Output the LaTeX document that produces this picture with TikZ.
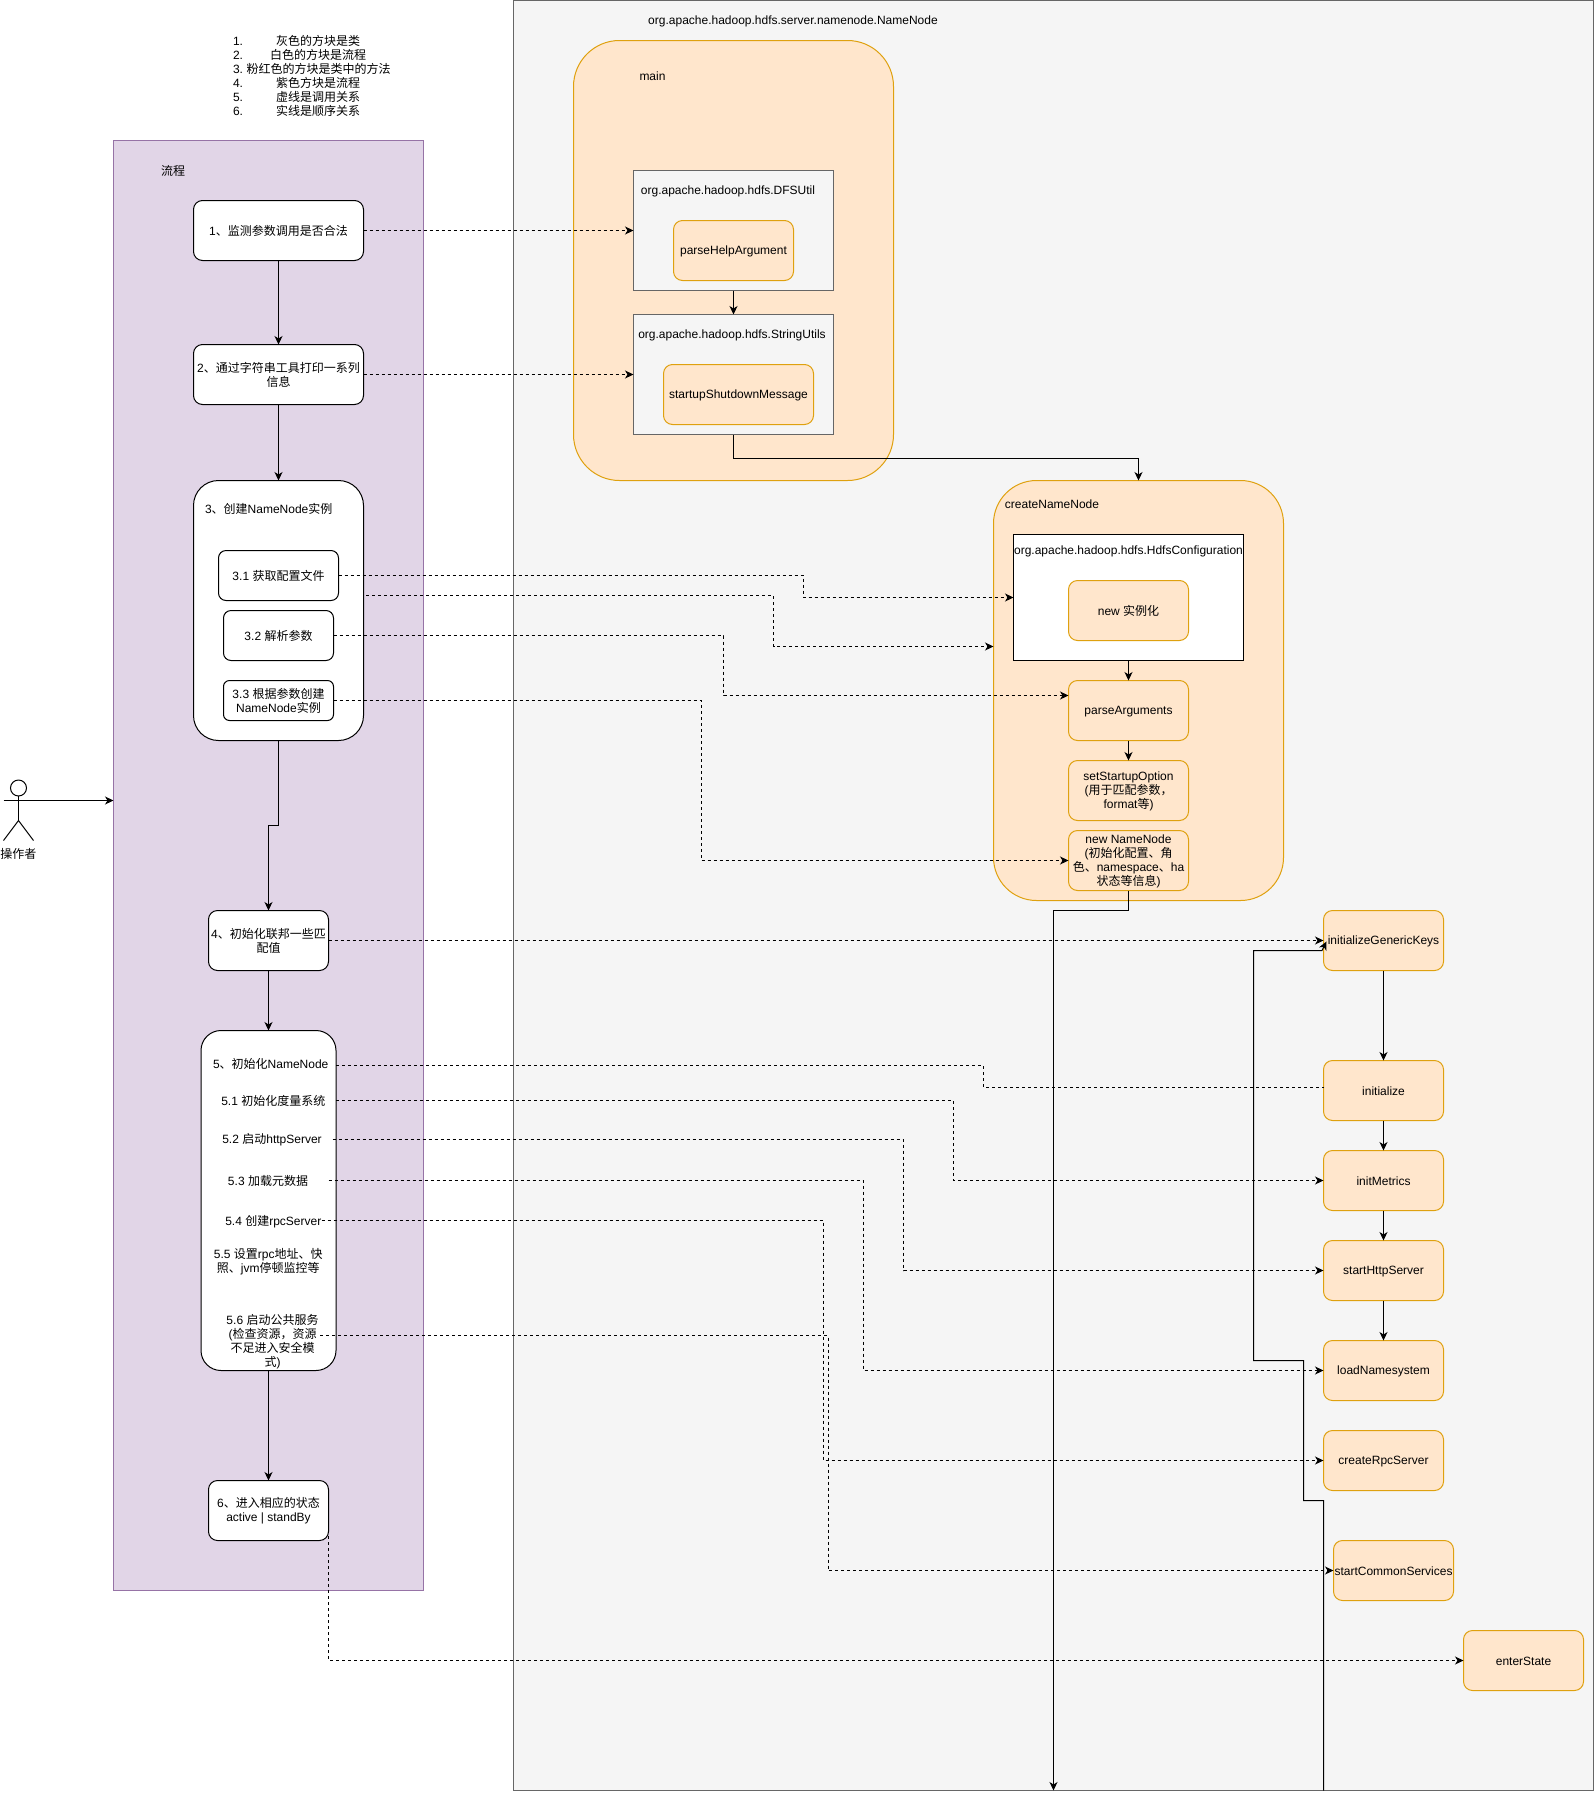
\documentclass[tikz,border=0pt]{standalone}
\usepackage{fontspec}
\setmainfont{Liberation Sans}
\newfontfamily\cjk{Noto Sans CJK SC}
\newcommand{\zh}[1]{{\cjk #1}}
\newcommand{\lat}{\vphantom{\zh{字}}}
\usetikzlibrary{
    arrows.meta
}
\definecolor{panelgray}{HTML}{F5F5F5}
\definecolor{linegray}{HTML}{666666}
\definecolor{flowfill}{HTML}{E1D5E7}
\definecolor{flowline}{HTML}{9673A6}
\definecolor{methodfill}{HTML}{FFE6CC}
\definecolor{methodline}{HTML}{DFA10F}

\begin{document}
\begin{tikzpicture}[x=1pt,y=-1pt,line width=1pt,>={Stealth[length=8.5pt,width=8pt,inset=2.5pt]},
	font=\fontsize{12}{14}\selectfont]
	\tikzstyle{every node}=[inner sep=0pt, outer sep=0pt, align=center]
	\tikzstyle{flowbox}=[draw=black, fill=white, rounded corners=9pt, minimum width=120pt, minimum height=60pt]
	\tikzstyle{method}=[draw=methodline, fill=methodfill, rounded corners=9pt, minimum width=120pt, minimum height=60pt]
	\tikzstyle{klass}=[draw=linegray, fill=panelgray, minimum width=200pt, minimum height=120pt]
	\tikzstyle{call}=[->, dash pattern=on 3pt off 3pt]
	\useasboundingbox (0, 0) rectangle (1594, 1799);

	% panels
	\node [draw=linegray, fill=panelgray, minimum width=1080pt, minimum height=1790pt] (nnclass) at (1053.5, 895.5) {};
	\node [draw=flowline, fill=flowfill, minimum width=310pt, minimum height=1450pt] (flowbg) at (268.5, 865.5) {};
	\node [draw=methodline, fill=methodfill, rounded corners=46pt, minimum width=320pt, minimum height=440pt] (mainm) at (733.5, 260.5) {};
	\node [draw=methodline, fill=methodfill, rounded corners=43pt, minimum width=290pt, minimum height=420pt] (createm) at (1138.5, 690.5) {};

	% legend and titles
	\node [anchor=north west, align=left] (legend) at (233, 35.5) {1.\hspace{33pt}\zh{灰色的方块是类}\\ 2.\hspace{27pt}\zh{白色的方块是流程}\\ 3.\hspace{3.5pt}\zh{粉红色的方块是类中的方法}\\ 4.\hspace{33pt}\zh{紫色方块是流程}\\ 5.\hspace{33pt}\zh{虚线是调用关系}\\ 6.\hspace{33pt}\zh{实线是顺序关系}};
	\node (flowtitle) at (173, 171) {\zh{流程}};
	\node (nntitle) at (793, 20.5) {\lat org.apache.hadoop.hdfs.server.namenode.NameNode};
	\node (maintitle) at (652.5, 76) {\lat main};
	\node (createtitle) at (1052, 504) {\lat createNameNode};

	% actor
	\node [draw, circle, minimum size=16pt] (actor) at (18.5, 788) {};
	\coordinate (arml) at (3.5, 800.5);
	\coordinate (armr) at (33.5, 800.5);
	\coordinate (hip) at (18.5, 820.5);
	\coordinate (footl) at (3.5, 840.5);
	\coordinate (footr) at (33.5, 840.5);
	\draw (actor.south) -- (hip);
	\draw (arml) -- (armr);
	\draw (footl) -- (hip) -- (footr);
	\node (actorname) at (18.5, 853.5) {\zh{操作者}};

	% flow column
	\node [flowbox, minimum width=170pt] (check) at (278.5, 230.5) {1\zh{、监测参数调用是否合法}};
	\node [flowbox, minimum width=170pt] (printmsg) at (278.5, 374.5) {2\zh{、通过字符串工具打印一系列}\\ \zh{信息}};
	\node [flowbox, rounded corners=25pt, minimum width=170pt, minimum height=260pt] (instance) at (278.5, 610.5) {};
	\node (instancetxt) at (268.7, 509) {3\zh{、创建}NameNode\zh{实例}};
	\node [flowbox, rounded corners=7.5pt, minimum height=50pt] (readconf) at (278.5, 575.5) {3.1 \zh{获取配置文件}};
	\node [flowbox, rounded corners=7.5pt, minimum width=110pt, minimum height=50pt] (parseargs) at (278.5, 635.5) {3.2 \zh{解析参数}};
	\node [flowbox, rounded corners=6pt, minimum width=110pt, minimum height=40pt] (newinst) at (278.5, 700.5) {3.3 \zh{根据参数创建}\\ NameNode\zh{实例}};
	\node [flowbox] (federation) at (268.5, 940.5) {4\zh{、初始化联邦一些匹}\\ \zh{配值}};
	\node [flowbox, rounded corners=20pt, minimum width=135pt, minimum height=340pt] (initnn) at (268.5, 1200.5) {};
	\node (initnntxt) at (270.7, 1063.5) {5\zh{、初始化}NameNode};
	\node (metricstxt) at (273.3, 1100.5) {5.1 \zh{初始化度量系统}};
	\node (httptxt) at (272, 1139.5) {5.2 \zh{启动}httpServer};
	\node (loadtxt) at (268, 1180.5) {5.3 \zh{加载元数据}};
	\node (rpctxt) at (273.3, 1221.5) {5.4 \zh{创建}rpcServer};
	\node (snaptxt) at (268.3, 1262) {5.5 \zh{设置}rpc\zh{地址、快}\\ \zh{照、}jvm\zh{停顿监控等}};
	\node (commontxt) at (272.5, 1342) {5.6 \zh{启动公共服务}\\ (\zh{检查资源，资源}\\ \zh{不足进入安全模}\\ \zh{式})};
	\node [flowbox] (enter) at (268.5, 1510.5) {6\zh{、进入相应的状态}\\ \lat active | standBy};

	% main
	\node [klass] (dfsutil) at (733.5, 230.5) {};
	\node (dfsutiltxt) at (728, 190.5) {\lat org.apache.hadoop.hdfs.DFSUtil};
	\node [method] (helparg) at (733.5, 250.5) {\lat parseHelpArgument};
	\node [klass] (strutil) at (733.5, 374.5) {};
	\node (strutiltxt) at (732, 334.5) {\lat org.apache.hadoop.hdfs.StringUtils};
	\node [method, minimum width=150pt] (shutmsg) at (738.5, 394.5) {\lat startupShutdownMessage};

	% createNameNode
	\node [draw=black, fill=white, minimum width=230pt, minimum height=126pt] (hdfs) at (1128.5, 597.5) {};
	\node (hdfstxt) at (1128.5, 550.5) {\lat org.apache.hadoop.hdfs.HdfsConfiguration};
	\node [method] (newconf) at (1128.5, 610.5) {new \zh{实例化}};
	\node [method] (parsearg) at (1128.5, 710.5) {\lat parseArguments};
	\node [method] (setopt) at (1128.5, 790.5) {\lat setStartupOption\\ (\zh{用于匹配参数，}\\ format\zh{等})};
	\node [method] (newnn) at (1128.5, 860.5) {\lat new NameNode\\ (\zh{初始化配置、角}\\ \zh{色、}namespace\zh{、}ha\\ \zh{状态等信息})};

	% initialize chain
	\node [method] (generic) at (1383.5, 940.5) {\lat initializeGenericKeys};
	\node [method] (initial) at (1383.5, 1090.5) {\lat initialize};
	\node [method] (metrics) at (1383.5, 1180.5) {\lat initMetrics};
	\node [method] (http) at (1383.5, 1270.5) {\lat startHttpServer};
	\node [method] (loadns) at (1383.5, 1370.5) {\lat loadNamesystem};
	\node [method] (rpcsrv) at (1383.5, 1460.5) {\lat createRpcServer};
	\node [method] (common) at (1393.5, 1570.5) {\lat startCommonServices};
	\node [method] (state) at (1523.5, 1660.5) {\lat enterState};

	% free ends
	\coordinate (edgea) at (1053.5, 1790.5);
	\coordinate (edgeb) at (1323.5, 1790.5);
	\coordinate (fromthree) at (366, 595.5);
	\coordinate (fromhttp) at (332.5, 1139.5);
	\coordinate (fromload) at (328.5, 1180.5);
	\coordinate (fromrpc) at (321.5, 1220.5);
	\coordinate (fromcommon) at (320, 1335.5);
	\coordinate (fromenter) at (328.5, 1536);

	% order of the steps
	\draw [->] (armr) -- (flowbg.west |- armr);
	\draw [->] (check) -- (printmsg);
	\draw [->] (printmsg) -- (instance);
	\draw [->] (instance.south) -- (278.5, 825.5) -- (268.5, 825.5) -- (federation.north);
	\draw [->] (federation) -- (initnn);
	\draw [->] (initnn) -- (enter);
	\draw [->] (dfsutil) -- (strutil);
	\draw [->] (strutil.south) -- (733.5, 458) -- (1138.5, 458) -- (createm.north);
	\draw [->] (hdfs) -- (parsearg);
	\draw [->] (parsearg) -- (setopt);
	\draw [->] (newnn.south) -- (1128.5, 910.5) -- (1053.5, 910.5) -- (edgea);
	\draw [->] (generic) -- (initial);
	\draw [->] (initial) -- (metrics);
	\draw [->] (metrics) -- (http);
	\draw [->] (http) -- (loadns);
	\draw [->] (edgeb) -- (1323.5, 1500.5) -- (1303.5, 1500.5) -- (1303.5, 1360.5) -- (1253.5, 1360.5) -- (1253.5, 950.5) -- (1322, 950.5) -- ([xshift=3pt,yshift=-1pt]generic.west);

	% calls
	\draw [call] (check) -- (dfsutil);
	\draw [call] (printmsg) -- (strutil);
	\draw [call] (readconf.east) -- (803.5, 575.5) -- (803.5, 597.5) -- (hdfs.west);
	\draw [call] (fromthree) -- (773.5, 595.5) -- (773.5, 646.5) -- ([yshift=44pt]createm.west);
	\draw [call] (parseargs.east) -- (723.5, 635.5) -- (723.5, 695.5) -- ([yshift=15pt]parsearg.west);
	\draw [call] (newinst.east) -- (701, 700.5) -- (701, 860.5) -- (newnn.west);
	\draw [call] (federation) -- (generic);
	\draw [dash pattern=on 3pt off 3pt] (initnn.east |- 0, 1065.5) -- (983.5, 1065.5) -- (983.5, 1087.5) -- ([yshift=3pt]initial.west);
	\draw [call] (initnn.east |- metricstxt) -- (953.5, 1100.5) -- (953.5, 1180.5) -- (metrics.west);
	\draw [call] (fromhttp) -- (903.5, 1139.5) -- (903.5, 1270.5) -- (http.west);
	\draw [call] (fromload) -- (863.5, 1180.5) -- (863.5, 1370.5) -- (loadns.west);
	\draw [call] (fromrpc) -- (823.5, 1220.5) -- (823.5, 1460.5) -- (rpcsrv.west);
	\draw [call] (fromcommon) -- (828, 1335.5) -- (828, 1570.5) -- (common.west);
	\draw [call] (fromenter) -- (328.5, 1660.5) -- (state.west);
\end{tikzpicture}
\end{document}
